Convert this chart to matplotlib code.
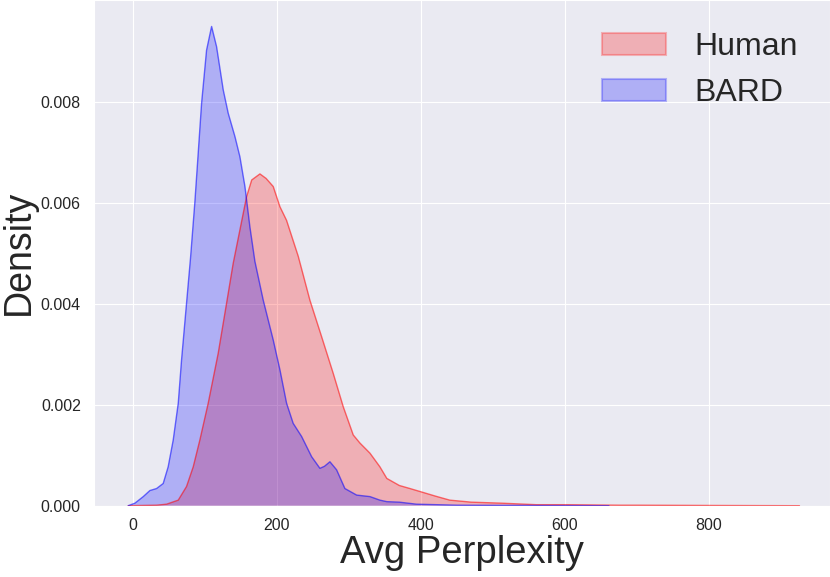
import matplotlib
matplotlib.use("Agg")
import matplotlib.pyplot as plt
import seaborn as sns
import numpy as np
from matplotlib.patches import Patch

# Density curves (x = Avg Perplexity, y = density)
human_x = [-6.5, 32.9, 46.8, 63, 74.5, 83.8, 93, 104.6, 118.5, 130.1, 139.3, 148.6,
           157.9, 165, 176.4, 185, 194.9, 204.2, 213.4, 229.6, 245.8, 262, 278.2,
           292.1, 306, 315.3, 329.2, 343, 352.6, 370, 384.7, 398.9, 420, 440, 470,
           512, 560, 600, 676, 700, 800, 925.6]
human_y = [0, 0.00001, 0.00003, 0.00011, 0.00038, 0.00077, 0.0013, 0.00203, 0.00302,
           0.00401, 0.0048, 0.00546, 0.00612, 0.00645, 0.00657, 0.00648, 0.00632,
           0.00592, 0.00565, 0.00494, 0.00407, 0.00335, 0.00262, 0.00196, 0.0014,
           0.00124, 0.00104, 0.00077, 0.00054, 0.0004, 0.00034, 0.00028, 0.00019,
           0.00011, 0.00007, 0.00005, 0.00002, 0.00002, 0.00001, 0.00001, 0.000005, 0]

bard_x = [-6.5, 2.8, 14.4, 23.6, 32.9, 42.1, 49, 56, 63, 67.6, 74.5, 80, 86, 90.7,
          95.4, 102.3, 109.3, 116.2, 125.5, 132.4, 141.7, 148.6, 155.6, 162.5, 169.4,
          181, 194.9, 204.2, 213.4, 222.6, 234.3, 248.2, 259.7, 266, 273.6, 282.9,
          294.4, 310.7, 329.2, 343, 352.6, 370, 393.8, 450, 550, 661]
bard_y = [0, 0.00005, 0.00018, 0.0003, 0.00034, 0.00044, 0.00077, 0.0013, 0.00203,
          0.00289, 0.00401, 0.0049, 0.006, 0.00698, 0.00797, 0.00902, 0.00949, 0.00909,
          0.00823, 0.00777, 0.00731, 0.00691, 0.00632, 0.00552, 0.00484, 0.00407,
          0.00328, 0.00269, 0.00203, 0.00163, 0.00137, 0.00097, 0.00074, 0.00078,
          0.00087, 0.00071, 0.00034, 0.00021, 0.00018, 0.00011, 0.00008, 0.00007,
          0.00003, 0.00001, 0.000005, 0]

labels = ["Human", "BARD"]
colors = ["red", "blue"]
xticks = [0, 200, 400, 600, 800]
yticks = [0.0, 0.002, 0.004, 0.006, 0.008]

sns.set_style("darkgrid")
plt.rcParams['font.family'] = ['Liberation Sans', 'DejaVu Sans']

fig = plt.figure(figsize=(8.30, 5.77), dpi=100)
ax = fig.add_axes([94 / 830, (577 - 505.7) / 577, (830 - 94) / 830, 505.7 / 577])

for xs, ys, lab, c in [(human_x, human_y, labels[0], colors[0]),
                       (bard_x, bard_y, labels[1], colors[1])]:
    ax.fill_between(xs, ys, 0, facecolor=c, alpha=0.25, edgecolor="none", label=lab)
    ax.plot(xs, ys, color=c, lw=1.0, alpha=0.55)

ax.set_xlim(-54, 968)
ax.set_ylim(0, 0.010014)
ax.set_xticks(xticks)
ax.set_yticks(yticks)
ax.set_xticklabels([str(v) for v in xticks], fontsize=11.5, color="#262626")
ax.set_yticklabels([f"{v:.3f}" for v in yticks], fontsize=11.5, color="#262626")
ax.tick_params(axis="y", pad=6)
ax.tick_params(axis="x", pad=5)
ax.set_xlabel("Avg Perplexity", fontsize=27.5, color="#262626", labelpad=2)
ax.set_ylabel("Density", fontsize=27, color="#262626", labelpad=3)

handles = [Patch(facecolor=c, alpha=0.25, edgecolor=c, linewidth=1.5) for c in colors]
ax.legend(handles, labels, loc="upper right", fontsize=23, frameon=False,
          borderaxespad=0.6, handletextpad=0.9)

fig.savefig("out.png", dpi=100)
